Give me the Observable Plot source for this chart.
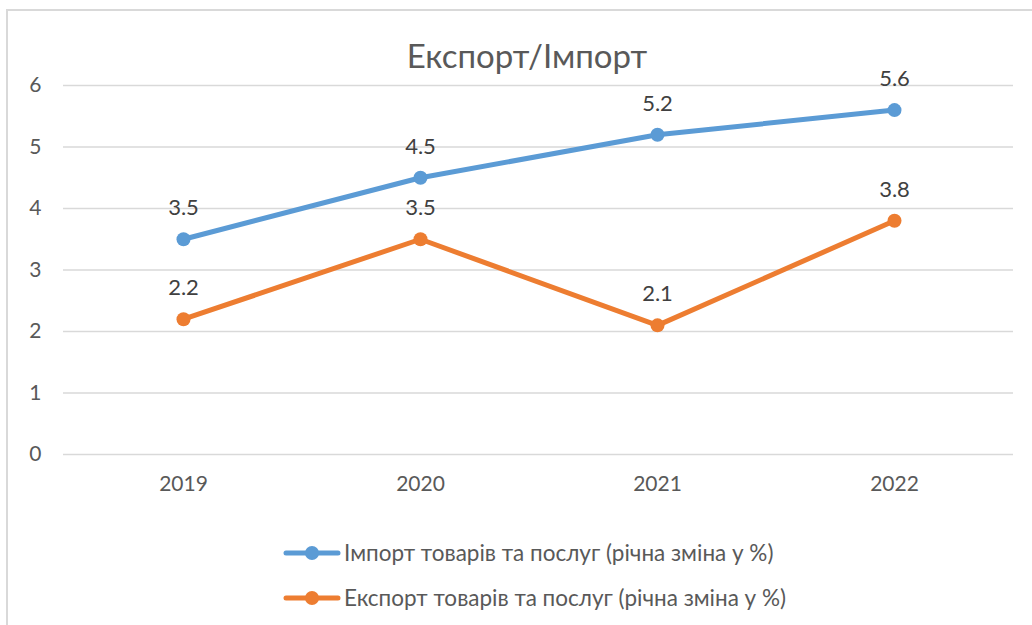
<!DOCTYPE html>
<html>
<head>
<meta charset="utf-8">
<script src="https://cdn.jsdelivr.net/npm/d3@7"></script>
<script src="https://cdn.jsdelivr.net/npm/@observablehq/plot@0.6"></script>
<style>
  body { margin: 0; background: #fff; }
  #wrap { position: relative; width: 1032px; height: 625px; overflow: hidden; font-family: Lato, "Open Sans", sans-serif; color: #595959; }
  #frame { position: absolute; left: 6px; top: 9px; width: 1100px; height: 700px; border: 2px solid #d9d9d9; box-sizing: border-box; }
  #title { position: absolute; left: 0; width: 1054px; top: 33px; text-align: center; font-size: 33px; line-height: 44px; color: #595959; }
  #chart { position: absolute; left: 0; top: 0; }
  #legend { position: absolute; left: 283px; top: 530px; font-size: 22.5px; color: #595959; }
  .item { display: flex; align-items: center; height: 45px; }
  .item svg { margin-right: 3px; }
</style>
</head>
<body>
<div id="wrap">
  <div id="frame"></div>
  <div id="chart"></div>
  <div id="title">Експорт/Імпорт</div>
  <div id="legend"></div>
</div>
<script>
const years = ["2019", "2020", "2021", "2022"];
const importValues = [3.5, 4.5, 5.2, 5.6];
const exportValues = [2.2, 3.5, 2.1, 3.8];
const seriesNames = ["Імпорт товарів та послуг (річна зміна у %)", "Експорт товарів та послуг (річна зміна у %)"];
const seriesColors = ["#5b9bd5", "#ed7d31"];
const yTicks = [0, 1, 2, 3, 4, 5, 6];

const rows = [];
years.forEach((y, i) => rows.push({year: y, value: importValues[i], series: seriesNames[0]}));
years.forEach((y, i) => rows.push({year: y, value: exportValues[i], series: seriesNames[1]}));

const plot = Plot.plot({
  width: 1032,
  height: 500,
  marginLeft: 63,
  marginRight: 19,
  marginTop: 85,
  marginBottom: 46,
  style: {fontFamily: "Lato, 'Open Sans', sans-serif", fontSize: "21px", color: "#595959", background: "transparent"},
  x: {type: "point", domain: years, padding: 0.5, label: null},
  y: {domain: [0, 6], label: null},
  color: {domain: seriesNames, range: seriesColors},
  marks: [
    Plot.ruleY(yTicks, {stroke: "#d9d9d9", strokeWidth: 1.5}),
    Plot.axisY({ticks: yTicks, tickFormat: d => String(d), tickSize: 0, tickPadding: 22, label: null, fill: "#595959", fontSize: 21}),
    Plot.axisX({tickSize: 0, tickPadding: 22, label: null, fill: "#595959", fontSize: 21}),
    Plot.line(rows, {x: "year", y: "value", z: "series", stroke: "series", strokeWidth: 5, strokeLinecap: "round", strokeLinejoin: "round"}),
    Plot.dot(rows, {x: "year", y: "value", fill: "series", r: 7, stroke: null}),
    Plot.text(rows, {x: "year", y: "value", text: d => d.value.toFixed(1), dy: -31, fill: "#404040", fontSize: 22})
  ]
});
document.getElementById("chart").appendChild(plot);

const legend = document.getElementById("legend");
seriesNames.forEach((name, i) => {
  const item = document.createElement("div");
  item.className = "item";
  item.innerHTML = `<svg width="58" height="16"><line x1="3" y1="8" x2="55" y2="8" stroke="${seriesColors[i]}" stroke-width="5" stroke-linecap="round"/><circle cx="29" cy="8" r="7" fill="${seriesColors[i]}"/></svg><span>${name}</span>`;
  legend.appendChild(item);
});
</script>
</body>
</html>
